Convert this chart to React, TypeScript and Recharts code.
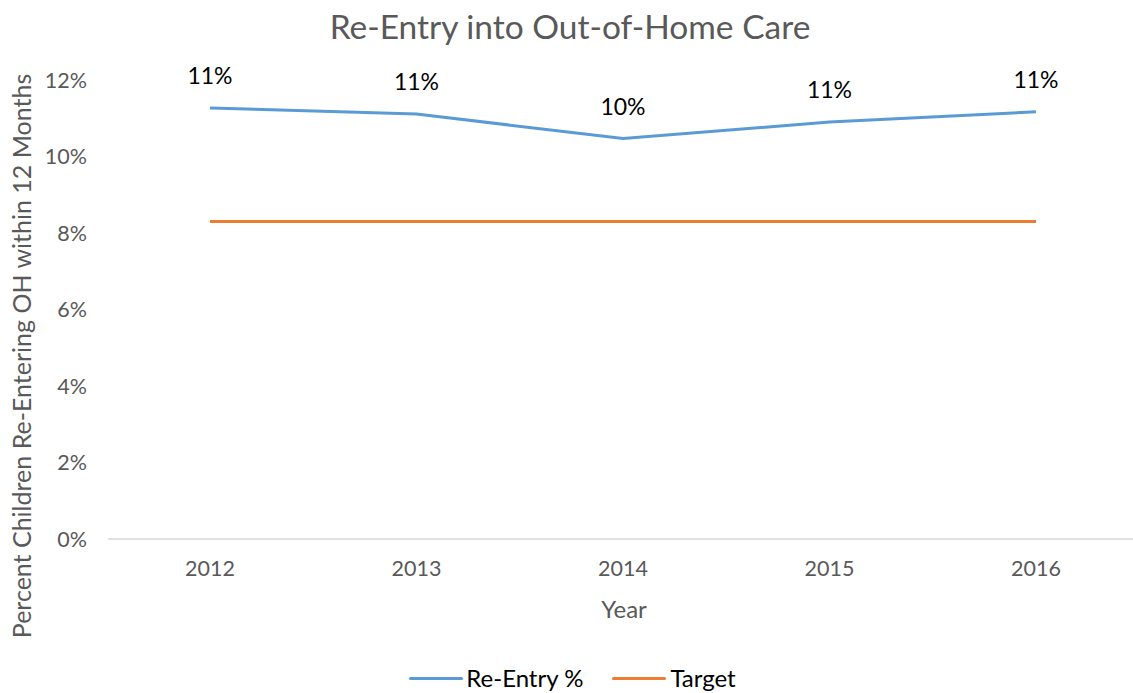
import React from "react";
import {
  LineChart,
  Line,
  XAxis,
  YAxis,
  Legend,
  LabelList,
} from "recharts";

const years = ["2012", "2013", "2014", "2015", "2016"];
const reEntry = [11.27, 11.11, 10.47, 10.9, 11.17];
const target = [8.3, 8.3, 8.3, 8.3, 8.3];
const yTicks = [0, 2, 4, 6, 8, 10, 12];

const data = years.map((year, i) => ({
  year,
  reEntry: reEntry[i],
  target: target[i],
}));

const FONT = "Lato, 'Open Sans', sans-serif";

const LegendContent = () => (
  <div
    style={{
      display: "flex",
      justifyContent: "center",
      alignItems: "center",
      height: 30,
      lineHeight: "30px",
      paddingLeft: 12,
      fontFamily: FONT,
      fontSize: 24,
      color: "#000",
    }}
  >
    <span style={{ display: "flex", alignItems: "center", marginRight: 29 }}>
      <span
        style={{
          width: 54,
          height: 3,
          background: "#5b9bd5",
          marginRight: 3,
          borderRadius: 2,
        }}
      />
      Re-Entry %
    </span>
    <span style={{ display: "flex", alignItems: "center" }}>
      <span
        style={{
          width: 54,
          height: 3,
          background: "#ed7d31",
          marginRight: 4,
          borderRadius: 2,
        }}
      />
      Target
    </span>
  </div>
);

export default function App() {
  return (
    <div
      style={{
        position: "absolute",
        left: 0,
        top: 0,
        width: 1133,
        height: 693,
        background: "#fff",
        fontFamily: FONT,
      }}
    >
      <div
        style={{
          position: "absolute",
          top: 6,
          left: 0,
          width: 1140,
          textAlign: "center",
          fontSize: 33.5,
          color: "#595959",
          lineHeight: "40px",
        }}
      >
        Re-Entry into Out-of-Home Care
      </div>
      <LineChart
        width={1133}
        height={693}
        data={data}
        margin={{ top: 80, right: 0, bottom: 0, left: 0 }}
      >
        <XAxis
          dataKey="year"
          height={124}
          padding={{ left: 102, right: 97 }}
          axisLine={{ stroke: "#d9d9d9", strokeWidth: 1.5 }}
          tickLine={false}
          tickMargin={16}
          tick={{ fill: "#595959", fontSize: 21.5, fontFamily: FONT }}
          label={{
            content: ({ viewBox }: any) => (
              <text
                x={624}
                y={viewBox.y + 69}
                textAnchor="middle"
                dominantBaseline="central"
                fill="#595959"
                fontSize={24}
                fontFamily={FONT}
              >
                Year
              </text>
            ),
          }}
        />
        <YAxis
          width={108}
          domain={[0, 12]}
          ticks={yTicks}
          axisLine={false}
          tickLine={false}
          tickMargin={15}
          tickFormatter={(v: number) => `${v}%`}
          tick={{ fill: "#595959", fontSize: 21.5, fontFamily: FONT }}
          label={{
            content: () => (
              <text
                x={21}
                y={356}
                textAnchor="middle"
                dominantBaseline="central"
                transform="rotate(-90 21 356)"
                fill="#595959"
                fontSize={25}
                fontFamily={FONT}
              >
                Percent Children Re-Entering OH within 12 Months
              </text>
            ),
          }}
        />
        <Legend verticalAlign="bottom" content={<LegendContent />} />
        <Line
          dataKey="reEntry"
          stroke="#5b9bd5"
          strokeWidth={3}
          dot={false}
          isAnimationActive={false}
        >
          <LabelList
            dataKey="reEntry"
            position="top"
            offset={24}
            formatter={(v: any) => `${Math.round(Number(v))}%`}
            style={{ fill: "#000", fontSize: 23, fontFamily: FONT }}
          />
        </Line>
        <Line
          dataKey="target"
          stroke="#ed7d31"
          strokeWidth={3}
          dot={false}
          isAnimationActive={false}
        />
      </LineChart>
    </div>
  );
}
